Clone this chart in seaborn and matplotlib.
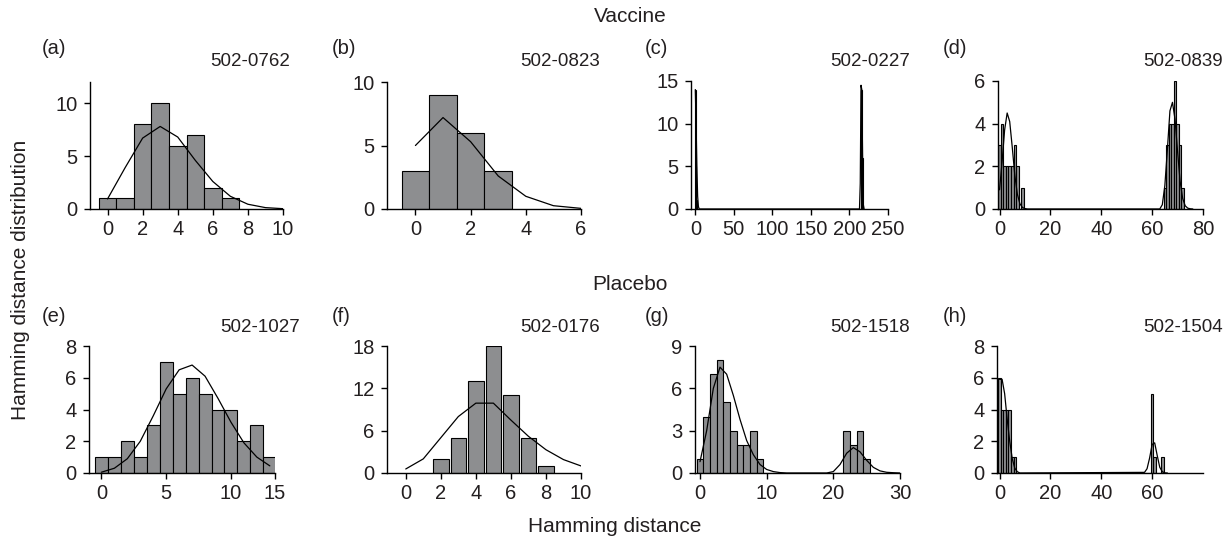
import seaborn as sns
import matplotlib.pyplot as plt

# ---- data: bar counts per Hamming distance + fitted curve ----
# (a) 502-0762
a_x = [0, 1, 2, 3, 4, 5, 6, 7]
a_n = [1, 1, 8, 10, 6, 7, 2, 1]
a_fx = [0, 1, 2, 3, 4, 5, 6, 7, 8, 9, 10]
a_fy = [0.95, 3.9, 6.7, 7.8, 6.8, 4.6, 2.6, 1.2, 0.45, 0.13, 0.03]

# (b) 502-0823
b_x = [0, 1, 2, 3]
b_n = [3, 9, 6, 3]
b_fx = [0, 1, 2, 3, 4, 5, 6]
b_fy = [5.0, 7.2, 5.3, 2.6, 1.0, 0.26, 0.05]

# (c) 502-0227
c_x = [0, 1, 2, 215, 216, 217]
c_n = [14, 5, 1, 14, 14, 6]
c_fx = [0, 1, 2, 3, 4, 5, 213, 214, 215, 216, 217, 218, 219]
c_fy = [14, 10, 5, 1.5, 0.3, 0, 0, 3, 14.5, 14, 6.3, 0.5, 0]

# (d) 502-0839
d_x = [0, 1, 2, 3, 4, 5, 6, 7, 8, 9, 65, 66, 67, 68, 69, 70, 71, 72]
d_n = [3, 4, 2, 2, 2, 2, 3, 2, 0, 1, 1, 3, 4, 4, 6, 4, 3, 1]
d_fx = [0, 1, 2, 3, 4, 5, 6, 7, 8, 9, 10, 11,
        63, 64, 65, 66, 67, 68, 69, 70, 71, 72, 73, 74, 75, 76]
d_fy = [0.9, 2.2, 3.7, 4.5, 4.1, 2.9, 1.6, 0.7, 0.25, 0.07, 0.02, 0,
        0, 0.2, 1.1, 2.8, 4.6, 5.0, 4.2, 2.7, 1.3, 0.5, 0.15, 0.04, 0.01, 0]

# (e) 502-1027
e_x = [0, 1, 2, 3, 4, 5, 6, 7, 8, 9, 10, 11, 12, 13]
e_n = [1, 1, 2, 1, 3, 7, 5, 6, 5, 4, 4, 2, 3, 1]
e_fx = [0, 1, 2, 3, 4, 5, 6, 7, 8, 9, 10, 11, 12, 13]
e_fy = [0.05, 0.3, 0.9, 2.0, 3.6, 5.3, 6.5, 6.8, 6.1, 4.7, 3.2, 1.9, 1.0, 0.45]

# (f) 502-0176
f_x = [2, 3, 4, 5, 6, 7, 8]
f_n = [2, 5, 13, 18, 11, 5, 1]
f_fx = [0, 1, 2, 3, 4, 5, 6, 7, 8, 9, 10]
f_fy = [0.57, 2.0, 5.0, 8.0, 9.9, 9.9, 7.5, 5.2, 3.3, 1.9, 1.0]

# (g) 502-1518
g_x = [0, 1, 2, 3, 4, 5, 6, 7, 8, 9, 22, 23, 24, 25]
g_n = [1, 4, 7, 8, 5, 3, 2, 2, 3, 1, 3, 2, 3, 1]
g_fx = list(range(0, 31))
g_fy = [0.8, 3.0, 6.0, 7.5, 7.0, 5.5, 3.8, 2.3, 1.3, 0.6, 0.25, 0.1, 0.03,
        0, 0, 0, 0, 0, 0, 0, 0.1, 0.6, 1.4, 1.8, 1.5, 0.9, 0.4, 0.15, 0.05, 0.02, 0]

# (h) 502-1504
h_x = [0, 1, 2, 3, 4, 5, 6, 60, 61, 64]
h_n = [6, 4, 4, 4, 4, 1, 1, 5, 1, 1]
h_fx = [0, 1, 2, 3, 4, 5, 6, 7, 8,
        57, 58, 59, 60, 61, 62, 63, 64, 65, 66]
h_fy = [5.9, 5.9, 5.0, 3.4, 2.0, 0.9, 0.3, 0.08, 0,
        0.04, 0.27, 0.94, 1.8, 1.9, 1.1, 0.36, 0.08, 0.01, 0]

tags = ["(a)", "(b)", "(c)", "(d)", "(e)", "(f)", "(g)", "(h)"]
samples = ["502-0762", "502-0823", "502-0227", "502-0839",
           "502-1027", "502-0176", "502-1518", "502-1504"]

sns.set_theme(style="ticks")
plt.rcParams["font.family"] = ["Liberation Sans", "DejaVu Sans"]
ink = "#231f20"
plt.rcParams.update({
    "font.size": 14.5,
    "text.color": ink,
    "axes.edgecolor": "black",
    "axes.linewidth": 1.0,
    "xtick.color": "black",
    "ytick.color": "black",
    "xtick.labelcolor": ink,
    "ytick.labelcolor": ink,
    "xtick.labelsize": 14.5,
    "ytick.labelsize": 14.5,
    "xtick.major.size": 4,
    "ytick.major.size": 4,
    "xtick.major.width": 1.0,
    "ytick.major.width": 1.0,
})

W, H = 1231, 543
fig = plt.figure(figsize=(W / 100, H / 100), dpi=100)

panels = [
    # (bars x, counts, curve x, curve y, box px (l, t, r, b), xlim, ylim, xticks, yticks, shrink)
    (a_x, a_n, a_fx, a_fy, (90, 82, 283, 209), (-1, 10), (0, 12), [0, 2, 4, 6, 8, 10], [0, 5, 10], 1),
    (b_x, b_n, b_fx, b_fy, (387, 82, 581, 209), (-1.03, 6), (0, 10), [0, 2, 4, 6], [0, 5, 10], 1),
    (c_x, c_n, c_fx, c_fy, (691, 81, 888, 209), (-5.6, 250), (0, 15), [0, 50, 100, 150, 200, 250], [0, 5, 10, 15], 1),
    (d_x, d_n, d_fx, d_fy, (998, 81, 1203, 209), (-0.6, 80), (0, 6), [0, 20, 40, 60, 80], [0, 2, 4, 6], 1),
    (e_x, e_n, e_fx, e_fy, (89, 346, 275, 473), (-0.96, 13.4), (0, 8), [0, 5, 10, 13.4], [0, 2, 4, 6, 8], 1),
    (f_x, f_n, f_fx, f_fy, (387, 346, 581, 473), (-1.07, 10), (0, 18), [0, 2, 4, 6, 8, 10], [0, 6, 12, 18], 0.88),
    (g_x, g_n, g_fx, g_fy, (695, 346, 900, 473), (-0.75, 30), (0, 9), [0, 10, 20, 30], [0, 3, 6, 9], 1),
    (h_x, h_n, h_fx, h_fy, (997, 346, 1203, 473), (-1, 80), (0, 8), [0, 20, 40, 60], [0, 2, 4, 6, 8], 1),
]

for i, (bx, bn, fx, fy, box, xl, yl, xt, yt, shr) in enumerate(panels):
    l, t, r, b = box
    ax = fig.add_axes([l / W, 1 - b / H, (r - l) / W, (b - t) / H])
    sns.histplot(x=bx, weights=bn, discrete=True, shrink=shr, ax=ax,
                 color="#8d8e90", edgecolor="black", linewidth=0.8, alpha=1)
    sns.lineplot(x=fx, y=fy, ax=ax, color="black", linewidth=0.9)
    ax.set_xlim(*xl)
    ax.set_ylim(*yl)
    ax.set_xticks(xt)
    if i == 4:
        ax.set_xticklabels(["0", "5", "10", "15"])
    ax.set_yticks(yt)
    ax.set_xlabel("")
    ax.set_ylabel("")
    sns.despine(ax=ax)
    ax.tick_params(axis="y", pad=5)
    ax.tick_params(axis="x", pad=4)

    row_top = 48 if i < 4 else 317
    lab_y = 62 if i < 4 else 327
    tag_x = [42, 332, 645, 943][i % 4]
    lab_r = [290, 600, 910, 1223][i % 4] if i != 4 else 300
    fig.text(tag_x / W, 1 - row_top / H, tags[i], ha="left", va="center", fontsize=14.5)
    fig.text(lab_r / W, 1 - lab_y / H, samples[i], ha="right", va="center", fontsize=13.5)

fig.text(630 / W, 1 - 17 / H, "Vaccine", ha="center", va="center", fontsize=15)
fig.text(630 / W, 1 - 285 / H, "Placebo", ha="center", va="center", fontsize=15)
fig.text(615 / W, 1 - 526 / H, "Hamming distance", ha="center", va="center", fontsize=15)
fig.text(21 / W, 1 - 280 / H, "Hamming distance distribution", ha="center", va="center",
         rotation=90, fontsize=15)

fig.savefig("out.png", dpi=100)
